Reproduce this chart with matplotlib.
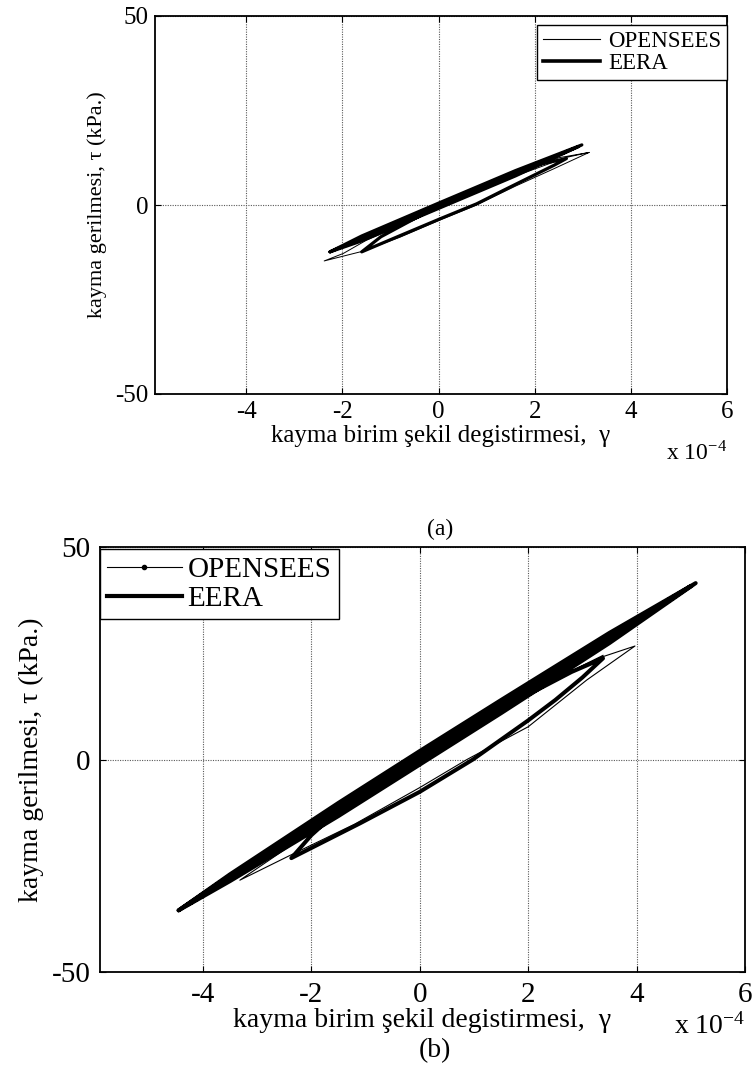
import matplotlib
matplotlib.use('Agg')
import matplotlib.pyplot as plt
from matplotlib.lines import Line2D

plt.rcParams['font.family'] = ['Liberation Serif', 'DejaVu Serif']
plt.rcParams['mathtext.fontset'] = 'stix'
plt.rcParams['axes.unicode_minus'] = False

# strain in units of 1e-4, stress in kPa
x_ticks = [-4, -2, 0, 2, 4, 6]
y_ticks = [-50, 0, 50]
x_label = 'kayma birim şekil degistirmesi,  γ'
y_label = 'kayma gerilmesi, τ (kPa.)'
names = ['OPENSEES', 'EERA']

# (a) hysteresis loops
a_ops_x = [0.0, 1.5, 2.5, 3.13, 2.4, 1.6, 0.79, 0.06, -0.8, -1.6, -2.38,
           -1.98, -1.5, 0.0, 1.5, 2.66, 3.13]
a_ops_y = [-0.9, 7.2, 12.5, 13.9, 9.6, 5.0, 0.0, -3.8, -8.5, -12.3, -14.8,
           -12.8, -9.3, -1.0, 7.2, 12.6, 13.9]
a_eera_x = [-2.26, -1.6, 0.0, 1.6, 2.98, 1.6, 0.0, -1.6, -2.26, -1.6, 0.0, 1.6, 2.0, 2.66,
            2.4, 2.05, 1.4, 0.79, 0.06, -0.8, -1.6, -1.2, 0.0, 1.6, 2.9]
a_eera_y = [-12.4, -8.2, 0.5, 9.1, 15.9, 7.7, -0.9, -9.5, -12.4, -8.8, -0.2, 8.4, 10.5, 12.3,
            10.5, 8.3, 4.2, 0.3, -3.5, -8.1, -12.4, -8.4, -0.2, 8.4, 15.4]

# (b) hysteresis loops
b_ops_x = [0.0, 2.0, 3.0, 3.38, 3.97, 3.08, 2.0, 0.87, 0.0, -1.2, -2.4, -3.32,
           -2.15, -1.0, 0.0, 2.0, 3.38]
b_ops_y = [-0.2, 15.8, 22.0, 24.2, 26.7, 18.7, 7.7, 0.0, -6.6, -15.2, -22.6, -28.4,
           -18.2, -8.3, -0.2, 15.8, 24.5]
b_eera_x = [-4.45, -3.5, -1.5, 0.0, 1.5, 3.5, 5.09, 3.5, 1.5, 0.0, -1.5, -3.5, -4.45,
            -3.5, -1.5, 0.0, 1.5, 3.5, 5.0, 3.5, 1.5, 0.0, -1.5, -3.5, -4.3,
            -3.0, -1.5, 0.0, 1.5, 2.2, 2.8, 3.38,
            3.0, 2.5, 2.0, 0.98, 0.0, -1.1, -2.37, -2.0, -1.6, 0.0, 1.5]
b_eera_y = [-35.5, -27.0, -10.2, 2.0, 14.0, 29.8, 41.5, 27.4, 10.9, -1.2, -13.3, -28.6, -35.5,
            -27.3, -11.2, 0.9, 13.0, 29.1, 40.8, 28.1, 12.0, -0.1, -12.2, -28.1, -34.3,
            -23.8, -11.7, 0.4, 12.0, 16.6, 20.6, 23.8,
            19.3, 14.0, 9.2, 0.0, -7.6, -15.0, -23.2, -17.8, -13.2, 0.4, 12.5]


def hysteresis_plot(ax, ops_x, ops_y, eera_x, eera_y, fs_tick, fs_x, fs_y,
                    lw_thin, lw_thick, pad):
    ax.plot(ops_x, ops_y, color='k', lw=lw_thin)
    ax.plot(eera_x, eera_y, color='k', lw=lw_thick,
            solid_joinstyle='round', solid_capstyle='round')
    ax.set_xlim(-5.9, 6)
    ax.set_ylim(-50, 50)
    ax.set_xticks(x_ticks)
    ax.set_yticks(y_ticks)
    ax.grid(True, ls=(0, (1, 1.2)), color='0.35', lw=0.8)
    ax.tick_params(direction='in', top=True, right=True, labelsize=fs_tick,
                   length=4, width=0.8, pad=pad)
    for s in ax.spines.values():
        s.set_linewidth(1.3)
    ax.set_xlabel(x_label, fontsize=fs_x)
    ax.set_ylabel(y_label, fontsize=fs_y)


fig = plt.figure(figsize=(7.52, 10.68), dpi=100)

# panel (a)
ax1 = fig.add_axes([155 / 752, 1 - 394 / 1068, 572 / 752, 378 / 1068])
hysteresis_plot(ax1, a_ops_x, a_ops_y, a_eera_x, a_eera_y, 18, 18, 16, 0.7, 2.3, 5)
ax1.xaxis.set_label_coords(0.5, -0.082)
ax1.yaxis.set_label_coords(-0.084, 0.5)
h1 = [Line2D([], [], color='k', lw=0.8), Line2D([], [], color='k', lw=2.6)]
ax1.legend(h1, names, loc='upper right', bbox_to_anchor=(1.0, 0.976),
           borderaxespad=0, fancybox=False, framealpha=1, edgecolor='k',
           fontsize=16.5, handlelength=2.5, handletextpad=0.35, labelspacing=0.05,
           borderpad=0.25).get_frame().set_linewidth(1.0)
ax1.text(1.0, -0.125, r'x 10$^{\mathregular{-4}}$', transform=ax1.transAxes,
         ha='right', va='top', fontsize=17)
fig.text(440 / 752, 1 - 529 / 1068, '(a)', ha='center', va='center', fontsize=17)

# panel (b)
ax2 = fig.add_axes([100 / 752, 1 - 972 / 1068, 645 / 752, 425 / 1068])
hysteresis_plot(ax2, b_ops_x, b_ops_y, b_eera_x, b_eera_y, 21, 20, 20, 0.8, 2.9, 7)
ax2.xaxis.set_label_coords(0.5, -0.085)
ax2.yaxis.set_label_coords(-0.087, 0.5)
h2 = [Line2D([], [], color='k', lw=0.8, marker='.', markersize=6),
      Line2D([], [], color='k', lw=3.0)]
ax2.legend(h2, names, loc='upper left', bbox_to_anchor=(0.0, 0.995),
           borderaxespad=0, fancybox=False, framealpha=1, edgecolor='k',
           fontsize=21, handlelength=2.55, handletextpad=0.2, labelspacing=0.1,
           borderpad=0.25, numpoints=1).get_frame().set_linewidth(1.0)
ax2.text(1.0, -0.095, r'x 10$^{\mathregular{-4}}$', transform=ax2.transAxes,
         ha='right', va='top', fontsize=20)
fig.text(435 / 752, 1 - 1051 / 1068, '(b)', ha='center', va='center', fontsize=20)

fig.savefig('out.png', dpi=100)
